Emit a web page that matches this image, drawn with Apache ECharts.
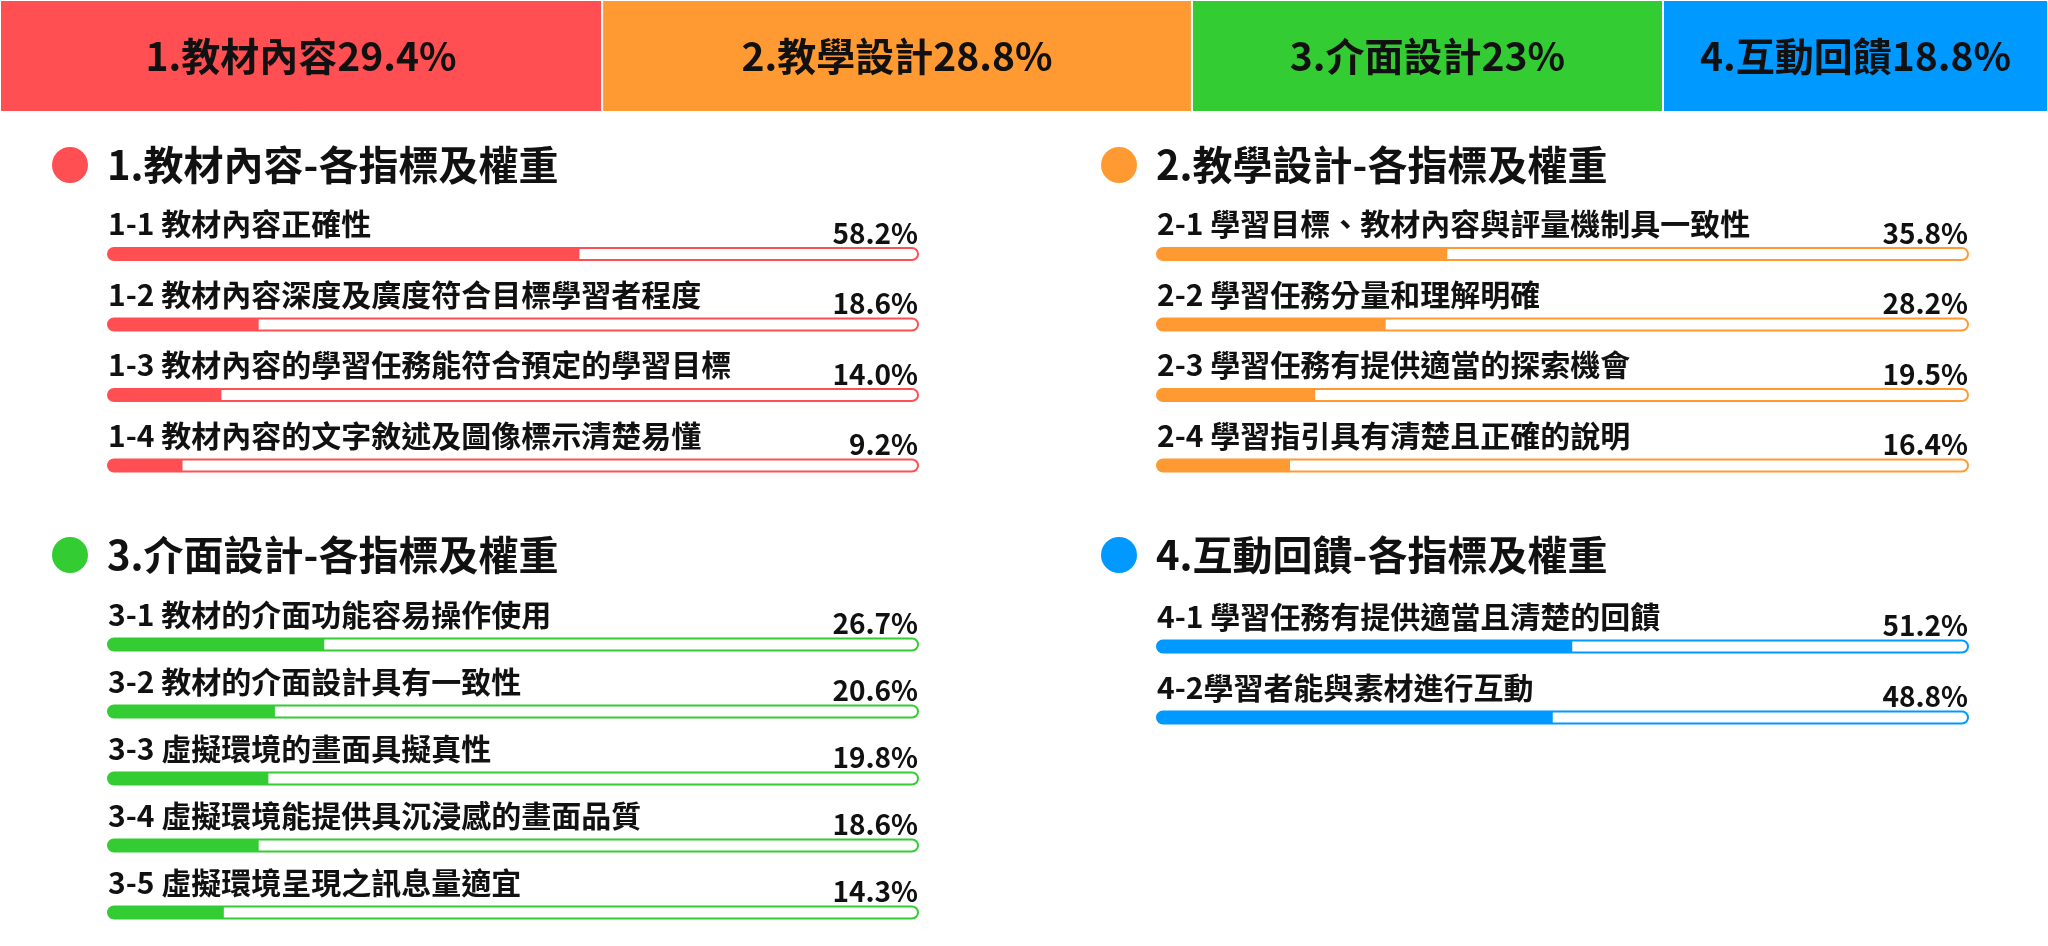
<!DOCTYPE html>
<html lang="zh-TW">

<head>
    <meta charset="UTF-8">
    <title>各指標及權重</title>
    <script src="https://cdn.jsdelivr.net/npm/echarts@6/dist/echarts.min.js"></script>
    <style>
        html, body {
            margin: 0;
            padding: 0;
            background: #fff;
        }

        #chart {
            width: 2048px;
            height: 946px;
        }
    </style>
</head>

<body>
    <div id="chart"></div>

    <script>
        // 四大構面
        const mainNames = ['1.教材內容', '2.教學設計', '3.介面設計', '4.互動回饋'];
        const mainValues = [29.4, 28.8, 23, 18.8];
        const mainColors = ['#FF4F53', '#FF9A33', '#33CC33', '#0099FF'];

        // 各指標
        const s1Items = ['1-1 教材內容正確性', '1-2 教材內容深度及廣度符合目標學習者程度', '1-3 教材內容的學習任務能符合預定的學習目標', '1-4 教材內容的文字敘述及圖像標示清楚易懂'];
        const s1Values = [58.2, 18.6, 14.0, 9.2];
        const s2Items = ['2-1 學習目標、教材內容與評量機制具一致性', '2-2 學習任務分量和理解明確', '2-3 學習任務有提供適當的探索機會', '2-4 學習指引具有清楚且正確的說明'];
        const s2Values = [35.8, 28.2, 19.5, 16.4];
        const s3Items = ['3-1 教材的介面功能容易操作使用', '3-2 教材的介面設計具有一致性', '3-3 虛擬環境的畫面具擬真性', '3-4 虛擬環境能提供具沉浸感的畫面品質', '3-5 虛擬環境呈現之訊息量適宜'];
        const s3Values = [26.7, 20.6, 19.8, 18.6, 14.3];
        const s4Items = ['4-1 學習任務有提供適當且清楚的回饋', '4-2學習者能與素材進行互動'];
        const s4Values = [51.2, 48.8];

        const FONT = '"Noto Sans CJK TC", "Noto Sans", sans-serif';

        // 版面
        const sections = [
            { items: s1Items, values: s1Values, color: mainColors[0], left: 108, width: 810, top: 218.75, pitch: 70.5, titleY: 165, dotX: 70 },
            { items: s2Items, values: s2Values, color: mainColors[1], left: 1157, width: 811, top: 218.75, pitch: 70.5, titleY: 165, dotX: 1119 },
            { items: s3Items, values: s3Values, color: mainColors[2], left: 108, width: 810, top: 611, pitch: 71, titleY: 555, dotX: 70 },
            { items: s4Items, values: s4Values, color: mainColors[3], left: 1157, width: 811, top: 611, pitch: 71, titleY: 555, dotX: 1119 }
        ];

        const chart = echarts.init(document.getElementById('chart'));

        const grid = [{ left: 0, right: 0, top: -1, height: 113 }];
        const xAxis = [{ type: 'value', gridIndex: 0, min: 0, max: 100, show: false }];
        const yAxis = [{ type: 'category', gridIndex: 0, data: ['權重'], show: false }];
        const series = [];
        const title = [];
        const graphic = [];

        // 頂部堆疊條
        mainNames.forEach((name, i) => {
            series.push({
                type: 'bar',
                name: name,
                stack: 'main',
                xAxisIndex: 0,
                yAxisIndex: 0,
                barWidth: '100%',
                data: [mainValues[i]],
                itemStyle: { color: mainColors[i], borderColor: '#fff', borderWidth: 1 },
                label: {
                    show: true,
                    position: 'inside',
                    formatter: () => name + mainValues[i] + '%',
                    fontFamily: FONT,
                    fontSize: 39,
                    fontWeight: 'bold',
                    color: '#111'
                },
                silent: true
            });
        });

        sections.forEach((s, k) => {
            const g = k + 1;
            grid.push({ left: s.left, width: s.width, top: s.top, height: s.pitch * s.items.length });
            xAxis.push({ type: 'value', gridIndex: g, min: 0, max: 100, show: false });
            yAxis.push({ type: 'category', gridIndex: g, inverse: true, data: s.items, show: false });

            series.push({
                type: 'bar',
                xAxisIndex: g,
                yAxisIndex: g,
                barWidth: 12,
                barGap: '-100%',
                data: s.values,
                showBackground: true,
                backgroundStyle: { color: '#fff', borderColor: s.color, borderWidth: 2, borderRadius: 6 },
                itemStyle: { color: s.color, borderRadius: [6, 0, 0, 6] },
                label: {
                    show: true,
                    position: [0, -24],
                    align: 'left',
                    verticalAlign: 'middle',
                    formatter: p => s.items[p.dataIndex],
                    fontFamily: FONT,
                    fontSize: 30,
                    fontWeight: 'bold',
                    color: '#111'
                },
                silent: true
            });

            // 百分比標籤
            series.push({
                type: 'bar',
                xAxisIndex: g,
                yAxisIndex: g,
                barWidth: 12,
                barGap: '-100%',
                data: s.values.map(() => 100),
                itemStyle: { color: 'rgba(0,0,0,0)' },
                label: {
                    show: true,
                    position: ['100%', -15],
                    align: 'right',
                    verticalAlign: 'middle',
                    formatter: p => s.values[p.dataIndex].toFixed(1) + '%',
                    fontFamily: FONT,
                    fontSize: 28,
                    fontWeight: 'bold',
                    color: '#111'
                },
                silent: true
            });

            title.push({
                text: mainNames[k] + '-各指標及權重',
                left: s.left - 1,
                top: s.titleY - 24,
                padding: 0,
                textStyle: {
                    fontFamily: FONT,
                    fontSize: 40,
                    fontWeight: 600,
                    lineHeight: 48,
                    color: '#111'
                }
            });

            graphic.push({
                type: 'circle',
                shape: { cx: s.dotX, cy: s.titleY, r: 18 },
                style: { fill: s.color },
                silent: true
            });
        });

        chart.setOption({
            animation: false,
            title: title,
            grid: grid,
            xAxis: xAxis,
            yAxis: yAxis,
            series: series,
            graphic: graphic
        });

        window.addEventListener('resize', function () {
            chart.resize();
        });
    </script>
</body>

</html>
